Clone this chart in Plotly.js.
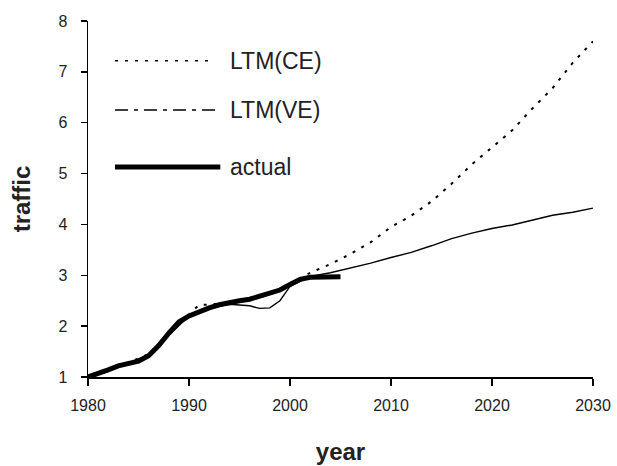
<!DOCTYPE html>
<html>
<head>
<meta charset="utf-8">
<script src="https://cdn.plot.ly/plotly-3.0.1.min.js"></script>
<style>html,body{margin:0;padding:0;background:#fff;}#chart{width:617px;height:466px;}</style>
</head>
<body>
<div id="chart"></div>
<script>
// ---- data ----
const yearsActual = [1980,1981,1982,1983,1984,1985,1986,1987,1988,1989,1990,1991,1992,1993,1994,1995,1996,1997,1998,1999,2000,2001,2002,2003,2004,2005];
const actual      = [1.00,1.06,1.14,1.22,1.27,1.31,1.42,1.62,1.86,2.08,2.20,2.29,2.36,2.42,2.47,2.50,2.53,2.59,2.65,2.71,2.82,2.92,2.96,2.97,2.97,2.97];

const yearsCE = [1980,1982,1984,1986,1988,1990,1991,1992,1994,1996,1998,2000,2002,2004,2006,2008,2010,2012,2014,2016,2018,2020,2022,2024,2026,2028,2030];
const ltmCE   = [1.00,1.15,1.28,1.45,1.85,2.22,2.42,2.42,2.47,2.52,2.62,2.82,3.05,3.22,3.42,3.65,3.95,4.17,4.45,4.80,5.18,5.52,5.85,6.28,6.68,7.18,7.60];

const yearsVE = [1980,1982,1984,1986,1988,1990,1992,1994,1996,1997,1998,1999,2000,2002,2004,2006,2008,2010,2012,2014,2016,2018,2020,2022,2024,2026,2028,2030];
const ltmVE   = [1.00,1.14,1.27,1.44,1.82,2.20,2.35,2.43,2.40,2.35,2.36,2.50,2.78,2.98,3.05,3.14,3.24,3.35,3.45,3.58,3.72,3.83,3.92,3.99,4.08,4.18,4.24,4.32];

const seriesNames = ["LTM(CE)", "LTM(VE)", "actual"];
const xTicks = [1980,1990,2000,2010,2020,2030];
const yTicks = [1,2,3,4,5,6,7,8];

const FONT = "Liberation Sans, Arial, sans-serif";

const traces = [
  {x: yearsActual, y: actual, name: seriesNames[2], mode: "lines",
   line: {color: "#000", width: 5}},
  {x: yearsCE, y: ltmCE, name: seriesNames[0], mode: "lines",
   line: {color: "#000", width: 2, dash: "3px,7px"}},
  {x: yearsVE, y: ltmVE, name: seriesNames[1], mode: "lines",
   line: {color: "#000", width: 1.4}}
];

// manual legend (long sample lines as in the reference)
const legY = [0.888, 0.750, 0.590];
const legX0 = 0.0535, legX1 = 0.262, legTx = 0.277;
const shapes = [
  {type:"line", xref:"paper", yref:"paper", x0:legX0, x1:0.248, y0:legY[0], y1:legY[0], line:{color:"#000", width:1.5, dash:"3px,7px"}},
  {type:"line", xref:"paper", yref:"paper", x0:legX0, x1:0.257, y0:legY[1], y1:legY[1], line:{color:"#000", width:1.5, dash:"13px,6px,4px,6px"}},
  {type:"line", xref:"paper", yref:"paper", x0:legX0, x1:legX1, y0:legY[2], y1:legY[2], line:{color:"#000", width:5}}
];
const annotations = seriesNames.map((n, i) => ({
  text: n, xref:"paper", yref:"paper", x: legTx, y: legY[i], xanchor:"left", yanchor:"middle",
  showarrow:false, font:{family: FONT, size: 23, color:"#222"}
}));

const layout = {
  width: 617, height: 466,
  margin: {l: 88, r: 24, t: 21, b: 89, pad: 0},
  paper_bgcolor: "#fff", plot_bgcolor: "#fff",
  showlegend: false,
  font: {family: FONT, color: "#222"},
  xaxis: {
    range: [1980, 2030], autorange: false,
    tickvals: xTicks, ticktext: xTicks.map(String),
    showgrid: false, zeroline: false,
    showline: true, linecolor: "#000", linewidth: 1.5,
    ticks: "outside", ticklen: 7, tickwidth: 1.5, tickcolor: "#000",
    ticklabelstandoff: 6,
    tickfont: {family: FONT, size: 16, color: "#222"},
    title: {text: "<b>year</b>", font: {family: FONT, size: 24, color: "#222"}}
  },
  yaxis: {
    range: [1, 8], autorange: false,
    tickvals: yTicks,
    showgrid: false, zeroline: false,
    showline: true, linecolor: "#000", linewidth: 1.5,
    ticks: "outside", ticklen: 6, tickwidth: 1.5, tickcolor: "#000",
    ticklabelstandoff: 10,
    tickfont: {family: FONT, size: 16, color: "#222"},
    title: {text: "<b>traffic</b>", font: {family: FONT, size: 24, color: "#222"}}
  },
  shapes: shapes,
  annotations: annotations
};

Plotly.newPlot("chart", traces, layout, {staticPlot: true, displayModeBar: false});
</script>
</body>
</html>
